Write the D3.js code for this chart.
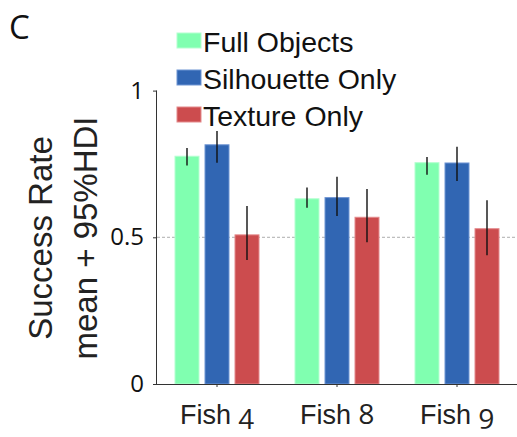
<!DOCTYPE html>
<html><head><meta charset="utf-8">
<script src="https://cdn.jsdelivr.net/npm/d3@7"></script>
<style>
body{margin:0;background:#fff;}
svg{display:block;}
</style></head>
<body>
<svg id="chart" width="517" height="437"></svg>
<script>
const fish = ["4", "8", "9"];
const conditions = ["Full Objects", "Silhouette Only", "Texture Only"];
const means = {
  "Full Objects":    [0.778, 0.633, 0.756],
  "Silhouette Only": [0.817, 0.637, 0.755],
  "Texture Only":    [0.510, 0.570, 0.531]
};
const lower = {
  "Full Objects":    [0.745, 0.601, 0.713],
  "Silhouette Only": [0.754, 0.573, 0.692],
  "Texture Only":    [0.423, 0.483, 0.439]
};
const upper = {
  "Full Objects":    [0.804, 0.670, 0.774],
  "Silhouette Only": [0.862, 0.706, 0.809],
  "Texture Only":    [0.607, 0.665, 0.626]
};
const yTicks = [0, 0.5, 1];
const yTickLabels = ["0", "0.5", "1"];

const fills = {"Full Objects":"#80ffb0","Silhouette Only":"#3166b3","Texture Only":"#cc4c4e"};
const strokes = {"Full Objects":"#b4ffd0","Silhouette Only":"#6f95d3","Texture Only":"#e48a8c"};

const svg = d3.select("#chart");
const x0 = d3.scaleBand().domain(fish).range([157, 517]).padding(0);
const x1 = d3.scaleBand().domain(conditions).range([15, 105]).paddingInner(1/6).paddingOuter(1/12);
const y = d3.scaleLinear().domain([0, 1]).range([384, 90.6]);

// reference line at 0.5
svg.append("line")
  .attr("x1", 157).attr("x2", 517)
  .attr("y1", y(0.5)).attr("y2", y(0.5))
  .attr("stroke", "#999").attr("stroke-width", 0.8).attr("stroke-dasharray", "3,2");

// bars
const data = [];
fish.forEach((f, i) => conditions.forEach(c => data.push({f, c, m: means[c][i], lo: lower[c][i], hi: upper[c][i]})));

svg.append("g").selectAll("rect").data(data).join("rect")
  .attr("x", d => x0(d.f) + x1(d.c) + 0.5)
  .attr("y", d => y(d.m) + 0.5)
  .attr("width", x1.bandwidth() - 1)
  .attr("height", d => y(0) - y(d.m) - 0.5)
  .attr("fill", d => fills[d.c])
  .attr("stroke", d => strokes[d.c])
  .attr("stroke-width", 1);

svg.append("g").selectAll("line").data(data).join("line")
  .attr("x1", d => x0(d.f) + x1(d.c) + x1.bandwidth()/2)
  .attr("x2", d => x0(d.f) + x1(d.c) + x1.bandwidth()/2)
  .attr("y1", d => y(d.hi)).attr("y2", d => y(d.lo))
  .attr("stroke", "#111").attr("stroke-width", 1.4);

// y axis
const yAxis = d3.axisLeft(y).tickValues(yTicks).tickFormat((d, i) => yTickLabels[i]).tickSize(4).tickPadding(9);
const gy = svg.append("g").attr("transform", "translate(157,0)").call(yAxis);
gy.select(".domain").attr("stroke", "#333").attr("d", `M-0.5,${y(1)}V${y(0)}`);
gy.selectAll(".tick line").attr("stroke", "#333");
gy.selectAll(".tick text").attr("font-family", "'Open Sans', sans-serif").attr("font-size", 24).attr("fill", "#111");

// x axis
const xAxis = d3.axisBottom(x0).tickSize(3).tickPadding(12).tickFormat("");
const gx = svg.append("g").attr("transform", "translate(0,384)").call(xAxis);
gx.select(".domain").attr("stroke", "#333").attr("d", "M157,0.5H517");
gx.selectAll(".tick line").attr("stroke", "#333");
gx.selectAll(".tick").each(function(d) {
  const t = d3.select(this).append("text")
    .attr("y", 40).attr("text-anchor", "middle")
    .attr("font-family", "'Liberation Sans', Arial, sans-serif").attr("font-size", 27).attr("fill", "#222");
  t.append("tspan").text("Fish ");
  t.append("tspan").attr("font-family", "'Open Sans', sans-serif").attr("font-size", 28)
    .style("font-feature-settings", "'onum' 1").text(d);
});

// y label
const yl = svg.append("text").attr("transform", "translate(0,238) rotate(-90)")
  .attr("text-anchor", "middle").attr("font-family", "'Liberation Sans', Arial, sans-serif")
  .attr("font-size", 33).attr("fill", "#222");
yl.append("tspan").attr("x", 0).attr("y", 52).text("Success Rate");
yl.append("tspan").attr("x", 0).attr("y", 97).text("mean + 95%HDI");

// panel letter
svg.append("text").attr("x", 9).attr("y", 39).attr("font-family", "'Open Sans', sans-serif")
  .attr("font-size", 33).attr("fill", "#111").text("C");

// legend
const lg = svg.append("g");
conditions.forEach((c, i) => {
  const yy = 33 + i * 37;
  lg.append("rect").attr("x", 177).attr("y", yy).attr("width", 24).attr("height", 15)
    .attr("fill", fills[c]).attr("stroke", strokes[c]).attr("stroke-width", 1);
  lg.append("text").attr("x", 203).attr("y", yy + 19)
    .attr("font-family", "'Liberation Sans', Arial, sans-serif").attr("font-size", 28.5).attr("fill", "#111").text(c);
});
</script>
</body></html>
